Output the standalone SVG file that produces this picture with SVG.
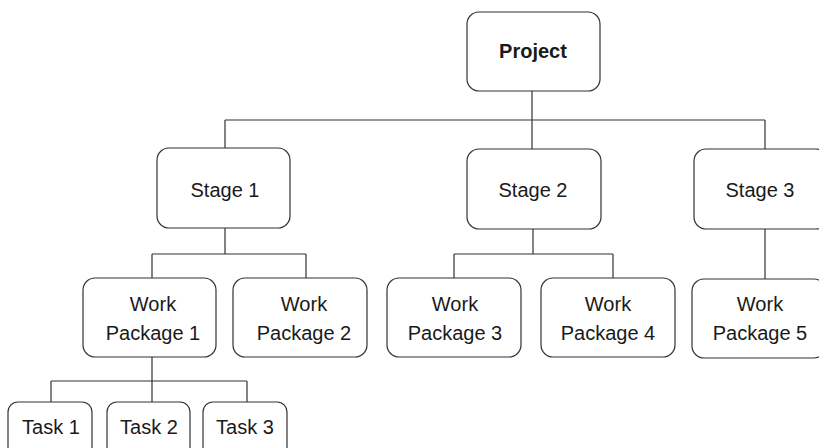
<svg xmlns="http://www.w3.org/2000/svg" width="819" height="448" viewBox="0 0 819 448">
<style>
.box{fill:#fff;stroke:#333;stroke-width:1.2}
.t{font-family:"Liberation Sans",Arial,sans-serif;font-size:20px;fill:#1a1a1a;text-anchor:middle}
.b{font-weight:bold}
.c{fill:none;stroke:#333;stroke-width:1.2}
</style>
<rect width="819" height="448" fill="#fff"/>
<g id="connectors">
<path class="c" d="M532 91V149M225 120H765M225 120V148M765 120V149"/>
<path class="c" d="M225 228V254M152 254H306M152 254V278M306 254V278"/>
<path class="c" d="M533 229V254M454 254H613M454 254V278M613 254V278"/>
<path class="c" d="M765 229V279"/>
<path class="c" d="M152 357V402M51 381H247M51 381V402M247 381V402"/>
</g>
<g id="project"><rect class="box" x="467" y="12" width="133" height="79" rx="12"/><text class="t b" x="533" y="58">Project</text></g>
<g id="stage1"><rect class="box" x="157" y="148" width="133" height="80" rx="12"/><text class="t" x="225" y="197">Stage 1</text></g>
<g id="stage2"><rect class="box" x="467" y="149" width="134" height="80" rx="12"/><text class="t" x="533" y="197">Stage 2</text></g>
<g id="stage3"><rect class="box" x="694" y="149" width="134" height="80" rx="12"/><text class="t" x="760" y="197">Stage 3</text></g>
<g id="wp1"><rect class="box" x="83" y="278" width="133" height="79" rx="12"/><text class="t" x="153" y="311">Work</text><text class="t" x="153" y="340">Package 1</text></g>
<g id="wp2"><rect class="box" x="233" y="278" width="134" height="79" rx="12"/><text class="t" x="304" y="311">Work</text><text class="t" x="304" y="340">Package 2</text></g>
<g id="wp3"><rect class="box" x="387" y="278" width="134" height="79" rx="12"/><text class="t" x="455" y="311">Work</text><text class="t" x="455" y="340">Package 3</text></g>
<g id="wp4"><rect class="box" x="541" y="278" width="134" height="79" rx="12"/><text class="t" x="608" y="311">Work</text><text class="t" x="608" y="340">Package 4</text></g>
<g id="wp5"><rect class="box" x="692" y="279" width="134" height="79" rx="12"/><text class="t" x="760" y="311">Work</text><text class="t" x="760" y="340">Package 5</text></g>
<g id="task1"><rect class="box" x="8" y="402" width="84" height="60" rx="10"/><text class="t" x="51" y="434">Task 1</text></g>
<g id="task2"><rect class="box" x="107" y="402" width="83" height="60" rx="10"/><text class="t" x="149" y="434">Task 2</text></g>
<g id="task3"><rect class="box" x="203" y="402" width="84" height="60" rx="10"/><text class="t" x="245" y="434">Task 3</text></g>
</svg>
